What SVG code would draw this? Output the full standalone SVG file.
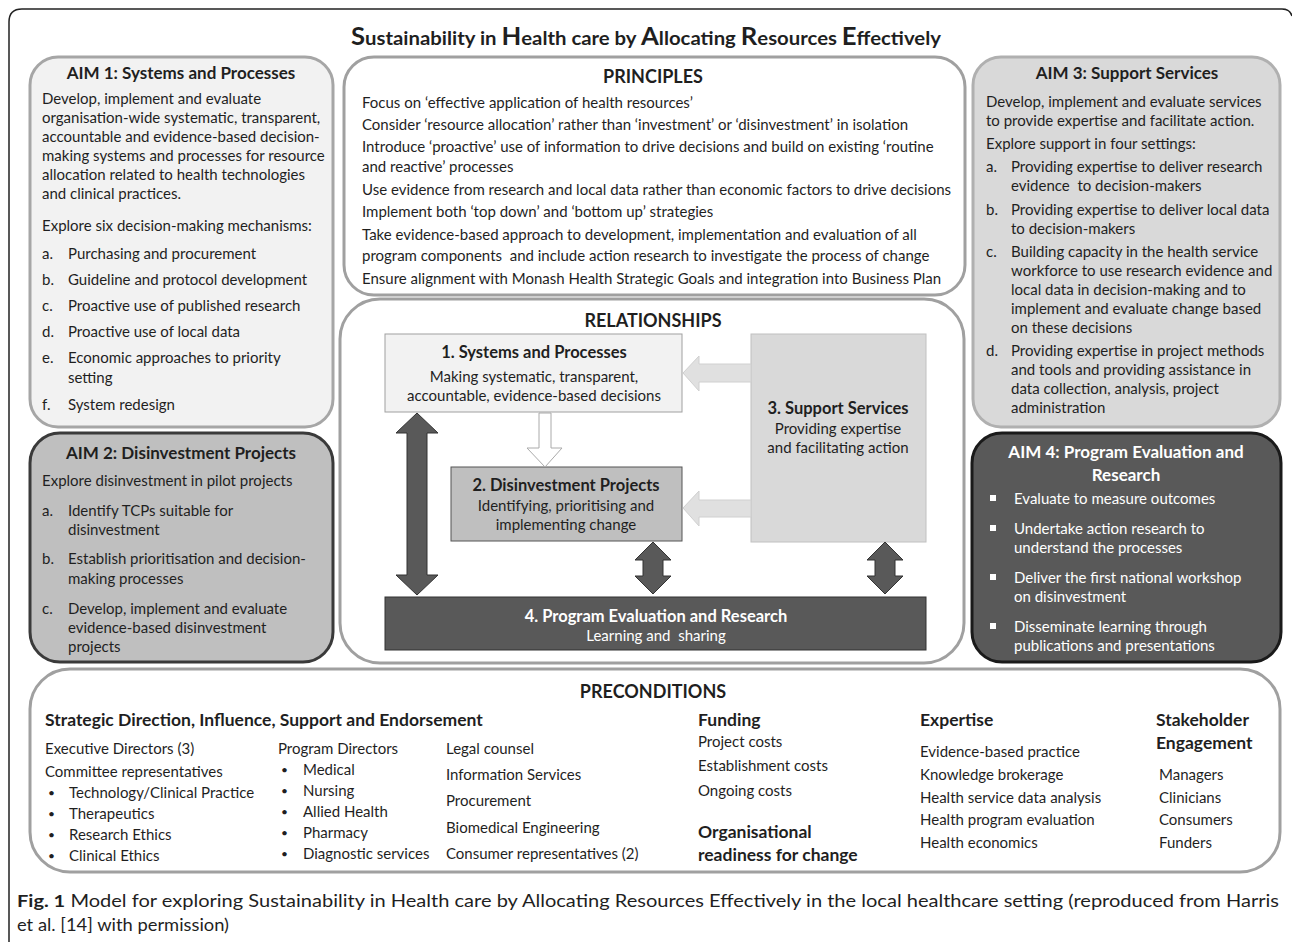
<svg xmlns="http://www.w3.org/2000/svg" width="1292" height="942" viewBox="0 0 1292 942">
<style>
text{font-family:Lato,"Liberation Sans",sans-serif;fill:#1f1f1f;font-size:15px}
.b{font-weight:bold}
.h{font-weight:bold;font-size:17.5px}
.a{font-weight:bold;font-size:17px}
.t{font-weight:bold;font-size:18px}
.r{font-weight:bold;font-size:16.5px}
.c{text-anchor:middle}
.w{fill:#fff}
.p{white-space:pre}
.d{font-size:12px}
.box{stroke-width:3}
</style>
<defs>
<path id="dbl" d="M0,-91 L21,-71 L10,-71 L10,71 L21,71 L0,91 L-21,71 L-10,71 L-10,-71 L-21,-71 Z"/>
<path id="dbls" d="M0,-26 L18,-8 L10,-8 L10,8 L18,8 L0,26 L-18,8 L-10,8 L-10,-8 L-18,-8 Z"/>
</defs>
<rect width="1292" height="942" fill="#fff"/>
<path d="M9,942 L9,22 Q9,9 22,9 L1282,9 Q1290,9 1292,16" fill="none" stroke="#222" stroke-width="1.5"/>
<text x="646" y="45" class="c b" style="font-size:19px" textLength="590" lengthAdjust="spacingAndGlyphs"><tspan style="font-size:24px">S</tspan>ustainability in <tspan style="font-size:24px">H</tspan>ealth care by <tspan style="font-size:24px">A</tspan>llocating <tspan style="font-size:24px">R</tspan>esources <tspan style="font-size:24px">E</tspan>ffectively</text>

<g id="aim1">
<rect x="30" y="57" width="303" height="370" rx="28" fill="#f2f2f2" stroke="#a6a6a6" class="box"/>
<text x="181" y="79" class="c a">AIM 1: Systems and Processes</text>
<text x="42" y="104">Develop, implement and evaluate</text>
<text x="42" y="123">organisation-wide systematic, transparent,</text>
<text x="42" y="142">accountable and evidence-based decision-</text>
<text x="42" y="161">making systems and processes for resource</text>
<text x="42" y="180">allocation related to health technologies</text>
<text x="42" y="199">and clinical practices.</text>
<text x="42" y="231">Explore six decision-making mechanisms:</text>
<text x="42" y="259">a.</text><text x="68" y="259">Purchasing and procurement</text>
<text x="42" y="285">b.</text><text x="68" y="285">Guideline and protocol development</text>
<text x="42" y="311">c.</text><text x="68" y="311">Proactive use of published research</text>
<text x="42" y="337">d.</text><text x="68" y="337">Proactive use of local data</text>
<text x="42" y="363">e.</text><text x="68" y="363">Economic approaches to priority</text>
<text x="68" y="383">setting</text>
<text x="42" y="410">f.</text><text x="68" y="410">System redesign</text>
</g>

<g id="principles">
<rect x="344" y="57" width="621" height="238" rx="30" fill="#fff" stroke="#a0a0a0" class="box"/>
<text x="653" y="83" class="c t">PRINCIPLES</text>
<text x="362" y="108">Focus on ‘effective application of health resources’</text>
<text x="362" y="130">Consider ‘resource allocation’ rather than ‘investment’ or ‘disinvestment’ in isolation</text>
<text x="362" y="152">Introduce ‘proactive’ use of information to drive decisions and build on existing ‘routine</text>
<text x="362" y="172">and reactive’ processes</text>
<text x="362" y="195">Use evidence from research and local data rather than economic factors to drive decisions</text>
<text x="362" y="217">Implement both ‘top down’ and ‘bottom up’ strategies</text>
<text x="362" y="240">Take evidence-based approach to development, implementation and evaluation of all</text>
<text x="362" y="261" class="p">program components  and include action research to investigate the process of change</text>
<text x="362" y="284">Ensure alignment with Monash Health Strategic Goals and integration into Business Plan</text>
</g>

<g id="aim3">
<rect x="973" y="57" width="307" height="370" rx="28" fill="#d9d9d9" stroke="#b0b0b0" class="box"/>
<text x="1127" y="79" class="c a">AIM 3: Support Services</text>
<text x="986" y="107">Develop, implement and evaluate services</text>
<text x="986" y="126">to provide expertise and facilitate action.</text>
<text x="986" y="149">Explore support in four settings:</text>
<text x="986" y="172">a.</text><text x="1011" y="172">Providing expertise to deliver research</text>
<text x="1011" y="191" class="p">evidence  to decision-makers</text>
<text x="986" y="215">b.</text><text x="1011" y="215">Providing expertise to deliver local data</text>
<text x="1011" y="234">to decision-makers</text>
<text x="986" y="257">c.</text><text x="1011" y="257">Building capacity in the health service</text>
<text x="1011" y="276">workforce to use research evidence and</text>
<text x="1011" y="295">local data in decision-making and to</text>
<text x="1011" y="314">implement and evaluate change based</text>
<text x="1011" y="333">on these decisions</text>
<text x="986" y="356">d.</text><text x="1011" y="356">Providing expertise in project methods</text>
<text x="1011" y="375">and tools and providing assistance in</text>
<text x="1011" y="394">data collection, analysis, project</text>
<text x="1011" y="413">administration</text>
</g>

<g id="aim2">
<rect x="30" y="433" width="303" height="229" rx="30" fill="#bfbfbf" stroke="#3a3a3a" class="box"/>
<text x="181" y="459" class="c a">AIM 2: Disinvestment Projects</text>
<text x="42" y="486">Explore disinvestment in pilot projects</text>
<text x="42" y="516">a.</text><text x="68" y="516">Identify TCPs suitable for</text>
<text x="68" y="535">disinvestment</text>
<text x="42" y="564">b.</text><text x="68" y="564">Establish prioritisation and decision-</text>
<text x="68" y="584">making processes</text>
<text x="42" y="614">c.</text><text x="68" y="614">Develop, implement and evaluate</text>
<text x="68" y="633">evidence-based disinvestment</text>
<text x="68" y="652">projects</text>
</g>

<g id="aim4">
<rect x="972" y="433" width="309" height="229" rx="30" fill="#595959" stroke="#1a1a1a" class="box"/>
<text x="1126" y="458" class="c a w">AIM 4: Program Evaluation and</text>
<text x="1126" y="481" class="c a w">Research</text>
<g fill="#fff">
<rect x="990" y="495" width="6" height="6"/>
<rect x="990" y="525" width="6" height="6"/>
<rect x="990" y="574" width="6" height="6"/>
<rect x="990" y="623" width="6" height="6"/>
</g>
<text x="1014" y="504" class="w">Evaluate to measure outcomes</text>
<text x="1014" y="534" class="w">Undertake action research to</text>
<text x="1014" y="553" class="w">understand the processes</text>
<text x="1014" y="583" class="w">Deliver the first national workshop</text>
<text x="1014" y="602" class="w">on disinvestment</text>
<text x="1014" y="632" class="w">Disseminate learning through</text>
<text x="1014" y="651" class="w">publications and presentations</text>
</g>

<g id="relationships">
<rect x="340" y="299" width="624" height="364" rx="40" fill="#fff" stroke="#a0a0a0" class="box"/>
<text x="653" y="327" class="c t">RELATIONSHIPS</text>
</g>
<g id="rel1">
<rect x="385" y="334" width="297" height="78" fill="#f2f2f2" stroke="#a0a0a0"/>
<text x="534" y="358" class="c r">1. Systems and Processes</text>
<text x="534" y="382" class="c">Making systematic, transparent,</text>
<text x="534" y="401" class="c">accountable, evidence-based decisions</text>
</g>
<g id="rel2">
<rect x="451" y="467" width="231" height="74" fill="#bfbfbf" stroke="#555"/>
<text x="566" y="491" class="c r">2. Disinvestment Projects</text>
<text x="566" y="511" class="c">Identifying, prioritising and</text>
<text x="566" y="530" class="c">implementing change</text>
</g>
<g id="rel3">
<rect x="751" y="334" width="175" height="208" fill="#d9d9d9" stroke="#c0c0c0"/>
<text x="838" y="414" class="c r">3. Support Services</text>
<text x="838" y="434" class="c">Providing expertise</text>
<text x="838" y="453" class="c">and facilitating action</text>
</g>
<g id="rel4">
<rect x="385" y="597" width="541" height="53" fill="#595959" stroke="#333"/>
<text x="656" y="622" class="c r w">4. Program Evaluation and Research</text>
<text x="656" y="641" class="c w p">Learning and  sharing</text>
</g>

<g id="connectors">
<path d="M751,364 L699,364 L699,356 L683,373 L699,391 L699,382 L751,382 Z" fill="#e0e0e0" stroke="#d0d0d0"/>
<path d="M751,500 L699,500 L699,491 L683,508 L699,526 L699,517 L751,517 Z" fill="#e0e0e0" stroke="#d0d0d0"/>
<path d="M539,413 L551,413 L551,448 L562,448 L545,467 L527,448 L539,448 Z" fill="#fff" stroke="#aaa"/>
<use href="#dbl" x="417" y="504" fill="#595959" stroke="#333"/>
<use href="#dbls" x="653" y="568" fill="#595959" stroke="#333"/>
<use href="#dbls" x="885" y="568" fill="#595959" stroke="#333"/>
</g>

<g id="preconditions">
<rect x="30" y="669" width="1250" height="203" rx="40" fill="#fff" stroke="#a0a0a0" class="box"/>
<text x="653" y="698" class="c t">PRECONDITIONS</text>
<text x="45" y="726" class="h">Strategic Direction, Influence, Support and Endorsement</text>
<text x="45" y="754">Executive Directors (3)</text>
<text x="45" y="777">Committee representatives</text>
<text x="48" y="797" class="d">•</text><text x="69" y="798">Technology/Clinical Practice</text>
<text x="48" y="818" class="d">•</text><text x="69" y="819">Therapeutics</text>
<text x="48" y="839" class="d">•</text><text x="69" y="840">Research Ethics</text>
<text x="48" y="860" class="d">•</text><text x="69" y="861">Clinical Ethics</text>
<text x="278" y="754">Program Directors</text>
<text x="281" y="774" class="d">•</text><text x="303" y="775">Medical</text>
<text x="281" y="795" class="d">•</text><text x="303" y="796">Nursing</text>
<text x="281" y="816" class="d">•</text><text x="303" y="817">Allied Health</text>
<text x="281" y="837" class="d">•</text><text x="303" y="838">Pharmacy</text>
<text x="281" y="858" class="d">•</text><text x="303" y="859">Diagnostic services</text>
<text x="446" y="754">Legal counsel</text>
<text x="446" y="780">Information Services</text>
<text x="446" y="806">Procurement</text>
<text x="446" y="833">Biomedical Engineering</text>
<text x="446" y="859">Consumer representatives (2)</text>
<text x="698" y="726" class="h">Funding</text>
<text x="698" y="747">Project costs</text>
<text x="698" y="771">Establishment costs</text>
<text x="698" y="796">Ongoing costs</text>
<text x="698" y="838" class="h">Organisational</text>
<text x="698" y="861" class="h">readiness for change</text>
<text x="920" y="726" class="h">Expertise</text>
<text x="920" y="757">Evidence-based practice</text>
<text x="920" y="780">Knowledge brokerage</text>
<text x="920" y="803">Health service data analysis</text>
<text x="920" y="825">Health program evaluation</text>
<text x="920" y="848">Health economics</text>
<text x="1156" y="726" class="h">Stakeholder</text>
<text x="1156" y="749" class="h">Engagement</text>
<text x="1159" y="780">Managers</text>
<text x="1159" y="803">Clinicians</text>
<text x="1159" y="825">Consumers</text>
<text x="1159" y="848">Funders</text>
</g>

<text x="17" y="907" style="font-size:17px" textLength="1262" lengthAdjust="spacingAndGlyphs"><tspan class="b">Fig. 1</tspan> Model for exploring Sustainability in Health care by Allocating Resources Effectively in the local healthcare setting (reproduced from Harris</text>
<text x="17" y="931" style="font-size:17px" textLength="212" lengthAdjust="spacingAndGlyphs">et al. [14] with permission)</text>
</svg>
